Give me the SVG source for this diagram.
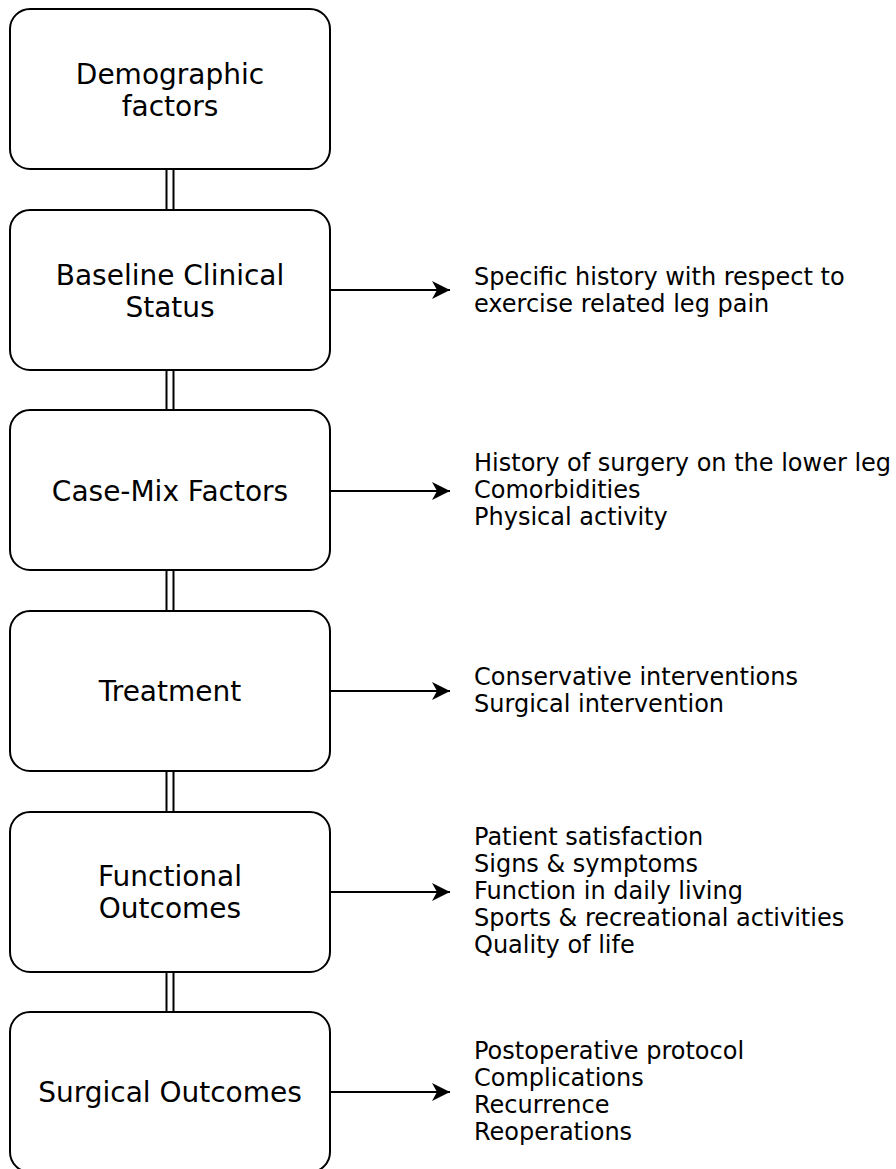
<svg xmlns="http://www.w3.org/2000/svg" width="896" height="1169" viewBox="0 0 896 1169">
<style>
.box{fill:#fff;stroke:#000;stroke-width:2}
.bt{font-family:"DejaVu Sans",Verdana,sans-serif;font-size:28px;fill:#000;text-anchor:middle}
.rt{font-family:"DejaVu Sans",Verdana,sans-serif;font-size:24px;fill:#000}
.ln{stroke:#000;stroke-width:2;fill:none}
</style>
<defs>
<marker id="ah" markerWidth="20" markerHeight="20" refX="18" refY="9" orient="auto" markerUnits="userSpaceOnUse">
<path d="M0,0 L18,9 L0,18 L5,9 Z" fill="#000"/>
</marker>
</defs>
<rect width="896" height="1169" fill="#fff"/>
<g id="connectors">
<path class="ln" d="M166.5,169V210M173.5,169V210"/>
<path class="ln" d="M166.5,370V410M173.5,370V410"/>
<path class="ln" d="M166.5,570V611M173.5,570V611"/>
<path class="ln" d="M166.5,771V812M173.5,771V812"/>
<path class="ln" d="M166.5,972V1012M173.5,972V1012"/>
<line class="ln" x1="330" y1="290" x2="450" y2="290" marker-end="url(#ah)"/>
<line class="ln" x1="330" y1="491" x2="450" y2="491" marker-end="url(#ah)"/>
<line class="ln" x1="330" y1="691" x2="450" y2="691" marker-end="url(#ah)"/>
<line class="ln" x1="330" y1="892" x2="450" y2="892" marker-end="url(#ah)"/>
<line class="ln" x1="330" y1="1092" x2="450" y2="1092" marker-end="url(#ah)"/>
</g>
<g id="demographic">
<rect class="box" x="10" y="9" width="320" height="160" rx="20"/>
<text class="bt" x="170" y="84">Demographic</text>
<text class="bt" x="170" y="116">factors</text>
</g>
<g id="baseline">
<rect class="box" x="10" y="210" width="320" height="160" rx="20"/>
<text class="bt" x="170" y="285">Baseline Clinical</text>
<text class="bt" x="170" y="317">Status</text>
</g>
<g id="casemix">
<rect class="box" x="10" y="410" width="320" height="160" rx="20"/>
<text class="bt" x="170" y="501">Case-Mix Factors</text>
</g>
<g id="treatment">
<rect class="box" x="10" y="611" width="320" height="160" rx="20"/>
<text class="bt" x="170" y="701">Treatment</text>
</g>
<g id="functional">
<rect class="box" x="10" y="812" width="320" height="160" rx="20"/>
<text class="bt" x="170" y="886">Functional</text>
<text class="bt" x="170" y="918">Outcomes</text>
</g>
<g id="surgical">
<rect class="box" x="10" y="1012" width="320" height="160" rx="20"/>
<text class="bt" x="170" y="1102">Surgical Outcomes</text>
</g>
<g id="baseline-details">
<text class="rt" x="474" y="285">Specific history with respect to</text>
<text class="rt" x="474" y="312">exercise related leg pain</text>
</g>
<g id="casemix-details">
<text class="rt" x="474" y="471">History of surgery on the lower leg</text>
<text class="rt" x="474" y="498">Comorbidities</text>
<text class="rt" x="474" y="525">Physical activity</text>
</g>
<g id="treatment-details">
<text class="rt" x="474" y="685">Conservative interventions</text>
<text class="rt" x="474" y="712">Surgical intervention</text>
</g>
<g id="functional-details">
<text class="rt" x="474" y="845">Patient satisfaction</text>
<text class="rt" x="474" y="872">Signs &amp; symptoms</text>
<text class="rt" x="474" y="899">Function in daily living</text>
<text class="rt" x="474" y="926">Sports &amp; recreational activities</text>
<text class="rt" x="474" y="953">Quality of life</text>
</g>
<g id="surgical-details">
<text class="rt" x="474" y="1059">Postoperative protocol</text>
<text class="rt" x="474" y="1086">Complications</text>
<text class="rt" x="474" y="1113">Recurrence</text>
<text class="rt" x="474" y="1140">Reoperations</text>
</g>
</svg>
